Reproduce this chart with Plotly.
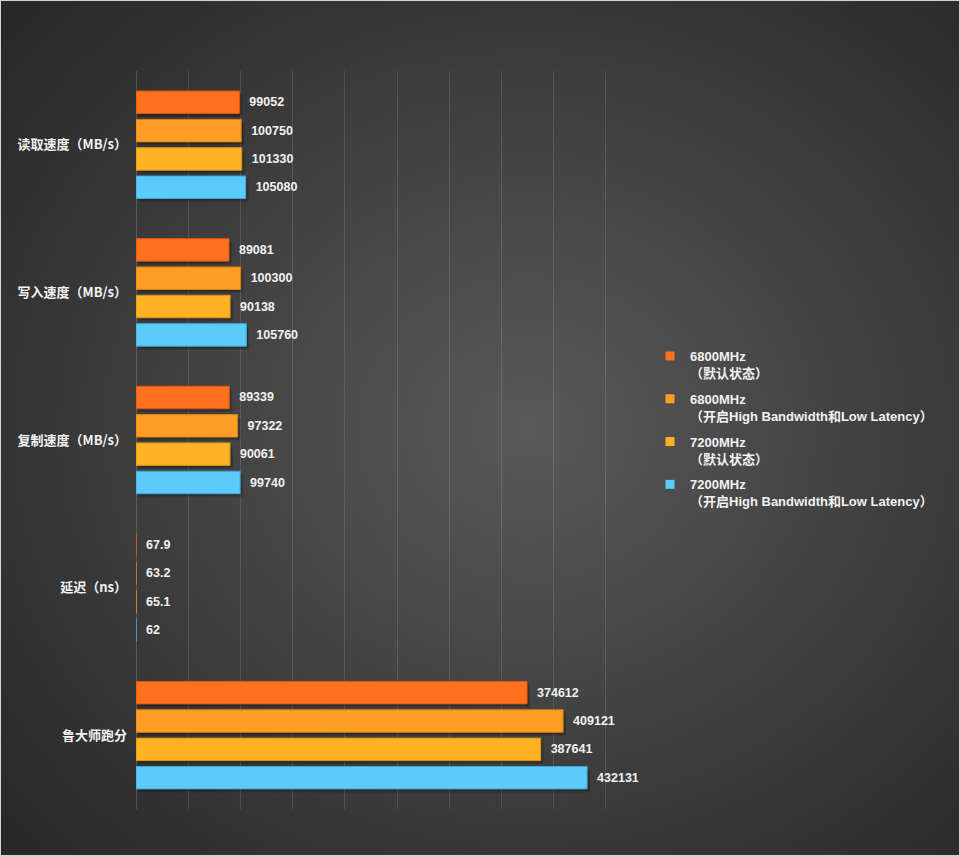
import base64
import plotly.graph_objects as go

categories = ["读取速度（MB/s）", "写入速度（MB/s）", "复制速度（MB/s）", "延迟（ns）", "鲁大师跑分"]
series_names = [
    "6800MHz<br>（默认状态）",
    "6800MHz<br>（开启High Bandwidth和Low Latency）",
    "7200MHz<br>（默认状态）",
    "7200MHz<br>（开启High Bandwidth和Low Latency）",
]
s1 = [99052, 89081, 89339, 67.9, 374612]
s2 = [100750, 100300, 97322, 63.2, 409121]
s3 = [101330, 90138, 90061, 65.1, 387641]
s4 = [105080, 105760, 99740, 62, 432131]
series_values = [s1, s2, s3, s4]
colors = ["#FF711F", "#FF9D24", "#FFB324", "#5BCBFA"]
edge_colors = ["#D95A12", "#D98217", "#D99616", "#3FA8D6"]

W, H = 960, 857
L, R, T, B = 136, 302, 71, 48
XMAX = 500000

svg = (
    '<svg xmlns="http://www.w3.org/2000/svg" width="958" height="854" viewBox="0 0 958 854" '
    'preserveAspectRatio="none"><defs><radialGradient id="g" cx="0.55" cy="0.5" r="0.72">'
    '<stop offset="0" stop-color="#595959"/><stop offset="1" stop-color="#282828"/>'
    '</radialGradient></defs><rect width="958" height="854" fill="url(#g)"/></svg>'
)
bg_src = "data:image/svg+xml;base64," + base64.b64encode(svg.encode()).decode()

pw, ph = W - L - R, H - T - B
cat_px = ph / len(categories)
x_per_px = XMAX / pw

bargap, groupgap = 0.232, 0.206
nser = len(series_values)
slot = (1 - bargap) / nser
bar_w = slot * (1 - groupgap)

def fmt(v):
    return "%g" % v

fig = go.Figure()
# soft drop shadows (drawn first, under the bars)
for i, vals in enumerate(series_values):
    center = -(1 - bargap) / 2 + slot * (i + 0.5)
    for dx, dy, a in [(1.5, 2.0, 0.22), (3.0, 3.5, 0.14)]:
        fig.add_trace(go.Bar(
            y=categories, x=vals, base=dx * x_per_px, orientation="h",
            width=bar_w, offset=center - bar_w / 2 + dy / cat_px,
            marker=dict(color="rgba(0,0,0,%g)" % a, line=dict(width=0)),
            showlegend=False, hoverinfo="skip",
        ))
for i, vals in enumerate(series_values):
    center = -(1 - bargap) / 2 + slot * (i + 0.5)
    fig.add_trace(go.Bar(
        y=categories, x=vals, orientation="h",
        width=bar_w, offset=center - bar_w / 2,
        marker=dict(color=colors[i], line=dict(color=edge_colors[i], width=1)),
        text=["\u00a0\u00a0" + fmt(v) for v in vals],
        textposition="outside",
        textfont=dict(family="Liberation Sans, Arial, sans-serif", size=12.5, color="#F2F2F2", weight="bold"),
        cliponaxis=False,
        showlegend=False,
        hoverinfo="skip",
    ))
for i, name in enumerate(series_names):
    fig.add_trace(go.Scatter(
        x=[None], y=[None], mode="markers", name=name, legendgroup=str(i),
        marker=dict(symbol="square", size=9, color=colors[i], line=dict(width=0)),
    ))

fig.update_layout(
    width=W, height=H, autosize=False,
    margin=dict(l=L, r=R, t=T, b=B, pad=0),
    paper_bgcolor="#D4D4D4",
    plot_bgcolor="rgba(0,0,0,0)",
    barmode="overlay",
    images=[dict(
        source=bg_src, xref="paper", yref="paper",
        x=(1 - L) / pw, y=1 + (T - 1) / ph,
        sizex=958 / pw, sizey=854 / ph,
        xanchor="left", yanchor="top", sizing="stretch", layer="below",
    )],
    xaxis=dict(
        range=[0, XMAX], dtick=50000, showticklabels=False, ticks="",
        showgrid=True, gridcolor="rgba(255,255,255,0.12)", gridwidth=1,
        zeroline=True, zerolinecolor="rgba(255,255,255,0.16)", zerolinewidth=1,
        showline=False, fixedrange=True,
    ),
    yaxis=dict(
        type="category", autorange="reversed", showgrid=False, ticks="",
        ticklabelstandoff=8, showline=False, zeroline=False, fixedrange=True,
        tickfont=dict(family="Noto Sans CJK SC, sans-serif", size=13, color="#F2F2F2", weight="bold"),
    ),
    legend=dict(
        x=(650 - L) / pw, xanchor="left",
        y=1 - (341 - T) / ph, yanchor="top",
        bgcolor="rgba(0,0,0,0)", borderwidth=0,
        font=dict(family="Liberation Sans, Noto Sans CJK SC, sans-serif", size=13, color="#F2F2F2", weight="bold"),
        valign="top", tracegroupgap=6, itemclick=False, itemdoubleclick=False,
    ),
)

fig.write_html(
    "out.html",
    config={"displayModeBar": False},
    post_script="document.body.style.margin='0';document.body.style.overflow='hidden';",
)
